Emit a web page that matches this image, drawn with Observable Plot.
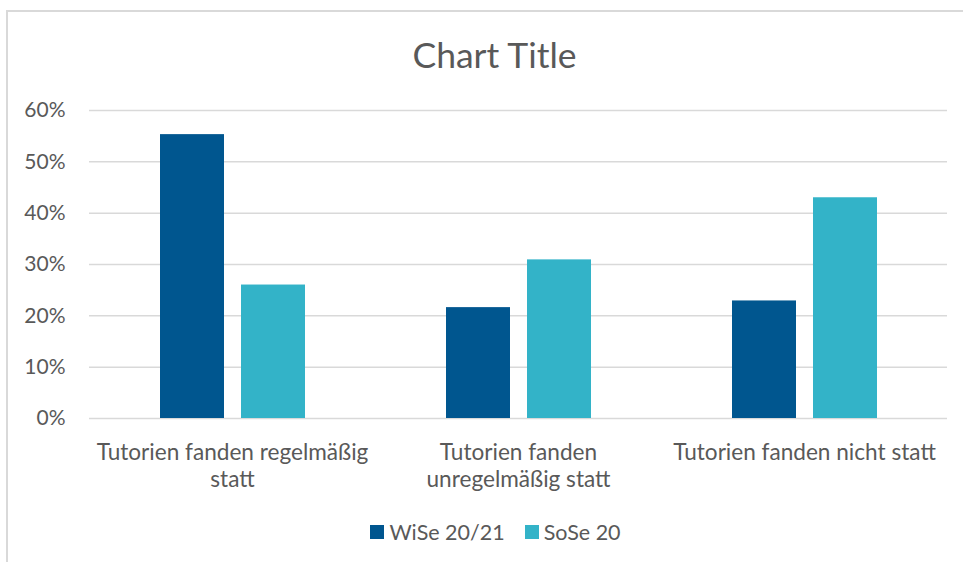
<!DOCTYPE html>
<html>
<head>
<meta charset="utf-8">
<script src="https://cdn.jsdelivr.net/npm/d3@7"></script>
<script src="https://cdn.jsdelivr.net/npm/@observablehq/plot@0.6"></script>
<style>
  html, body { margin: 0; padding: 0; background: #fff; overflow: hidden; }
  #wrap { position: relative; width: 963px; height: 562px; overflow: hidden; font-family: Lato, sans-serif; color: #595959; }
  #frame { position: absolute; left: 6px; top: 10px; width: 1000px; height: 600px; border: 2px solid #d9d9d9; box-sizing: border-box; }
  #title { position: absolute; left: 0; width: 989px; top: 37px; text-align: center; font-size: 35.5px; line-height: 36px; }
  #legend { position: absolute; left: 0; width: 991px; top: 521px; display: flex; justify-content: center; align-items: center; font-size: 21.5px; line-height: 22px; }
  .item { display: flex; align-items: center; margin: 0 10px; }
  .sw { width: 14px; height: 14px; margin-right: 5px; }
  #chart { position: absolute; left: 0; top: 0; }
</style>
</head>
<body>
<div id="wrap">
  <div id="frame"></div>
  <div id="chart"></div>
  <div id="title">Chart Title</div>
  <div id="legend"></div>
</div>
<script>
const categories = ["Tutorien fanden regelmäßig statt", "Tutorien fanden unregelmäßig statt", "Tutorien fanden nicht statt"];
const categoryLabels = ["Tutorien fanden regelmäßig\nstatt", "Tutorien fanden\nunregelmäßig statt", "Tutorien fanden nicht statt"];
const seriesNames = ["WiSe 20/21", "SoSe 20"];
const wise = [0.553, 0.216, 0.229];
const sose = [0.260, 0.309, 0.430];
const colors = ["#00568F", "#33B3C8"];
const yTicks = [0, 0.1, 0.2, 0.3, 0.4, 0.5, 0.6];

const data = [];
categories.forEach((c, i) => {
  data.push({cat: c, series: seriesNames[0], value: wise[i]});
  data.push({cat: c, series: seriesNames[1], value: sose[i]});
});
const labelData = categories.map((c, i) => ({cat: c, label: categoryLabels[i]}));

const chart = Plot.plot({
  width: 963,
  height: 562,
  marginLeft: 88,
  marginRight: 16,
  marginTop: 110,
  marginBottom: 144,
  style: {fontFamily: "Lato, sans-serif", fontSize: "21px", color: "#595959", background: "transparent"},
  fx: {domain: categories, padding: 0, axis: null},
  x: {domain: seriesNames, paddingInner: 0.213, paddingOuter: 0.852, axis: null},
  y: {domain: [0, 0.6], ticks: yTicks, tickFormat: d3.format(".0%"), tickSize: 0, tickPadding: 24, label: null},
  color: {domain: seriesNames, range: colors},
  marks: [
    Plot.gridY(yTicks, {stroke: "#d9d9d9", strokeOpacity: 1, strokeWidth: 1.5}),
    Plot.barY(data, {fx: "cat", x: "series", y: "value", fill: "series"}),
    Plot.text(labelData, {fx: "cat", text: "label", frameAnchor: "bottom", lineAnchor: "top", dy: 22, lineHeight: 1.2, fill: "#595959", fontSize: 22.6})
  ]
});
document.getElementById("chart").appendChild(chart);

const legend = document.getElementById("legend");
seriesNames.forEach((s, i) => {
  const item = document.createElement("div");
  item.className = "item";
  const sw = document.createElement("div");
  sw.className = "sw";
  sw.style.background = colors[i];
  const t = document.createElement("span");
  t.textContent = s;
  item.appendChild(sw);
  item.appendChild(t);
  legend.appendChild(item);
});
</script>
</body>
</html>
